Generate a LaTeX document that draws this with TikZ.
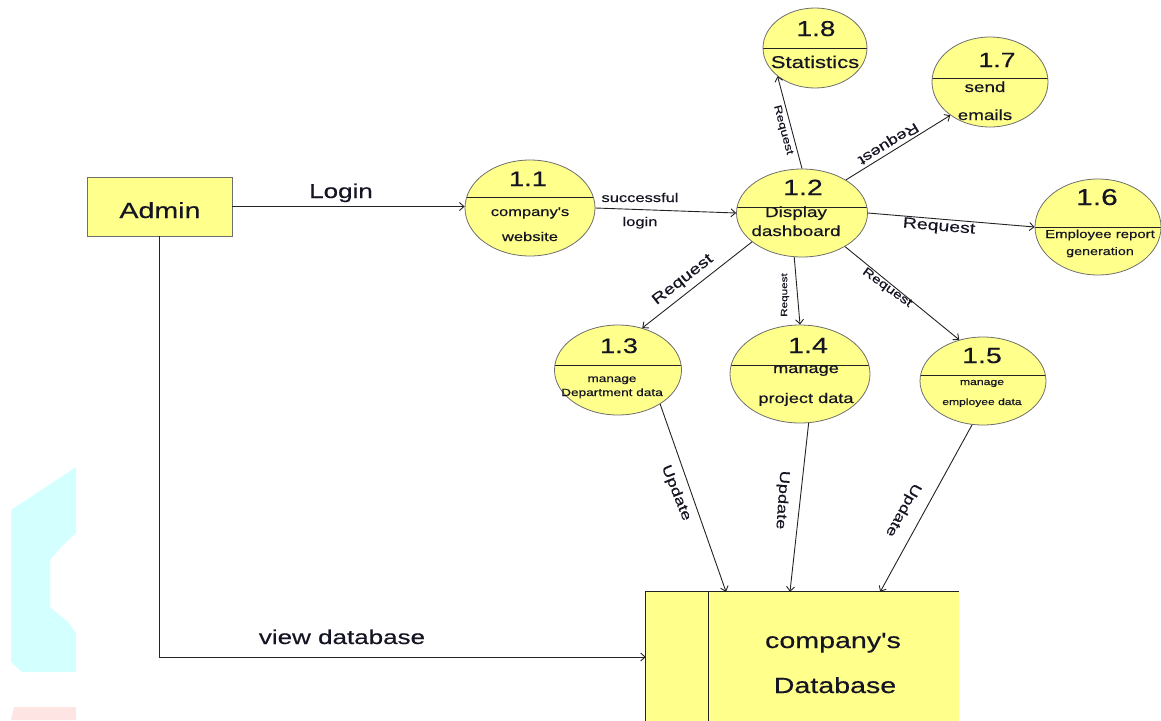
\documentclass[tikz,border=0pt]{standalone}
\usepackage{fontspec}
\setmainfont[FakeStretch=1.3, FakeBold=0.4, Ligatures=TeXOff]{Liberation Sans}
\usetikzlibrary{shapes.geometric,arrows.meta,calc}
\definecolor{procfill}{RGB}{255,255,140}
\definecolor{outl}{RGB}{110,110,110}
\definecolor{edgec}{RGB}{35,35,35}
\definecolor{txt}{RGB}{20,20,35}
\definecolor{wmcyan}{RGB}{212,255,255}
\definecolor{wmpink}{RGB}{255,228,228}
\newcommand\fsz[1]{\fontsize{#1}{#1}\selectfont}
\begin{document}
\begin{tikzpicture}[x=1pt,y=-1pt,
  proc/.style={ellipse, draw=outl, fill=procfill, inner sep=0pt, line width=0.8pt},
  div/.style={path picture={\draw[edgec, line width=1pt]
      ([yshift=#1]path picture bounding box.west) -- ([yshift=#1]path picture bounding box.east);}},
  box/.style={rectangle, draw=outl, fill=procfill, line width=0.9pt, inner sep=0pt},
  flow/.style={-{Straight Barb[length=4.5pt,width=8pt]}, draw=edgec, line width=0.9pt},
  t/.style={inner sep=0pt, anchor=base, text=txt},
  rl/.style={inner sep=0pt, anchor=center, text=txt},
]
\useasboundingbox (0,0) rectangle (1161,720);
% watermark remnants
\fill[wmcyan] (11,510)--(76,467)--(76,533)--(63,545)--(50,560)--(50,607)--(68,622)--(76,633)--(76,672)--(22,672)--(11,662)--cycle;
\fill[wmpink] (14,707)--(76,707)--(76,720)--(11,720)--cycle;

% external entity
\node[box, minimum width=145pt, minimum height=59pt] (admin) at (159.5,206.5) {};
\node[t, font=\fsz{22}] (admint) at (160,218) {Admin};

% data store
\node[rectangle, fill=procfill, draw=none, minimum width=313pt, minimum height=130pt, inner sep=0pt] (db) at (802.5,657) {};
\draw[edgec, line width=0.9pt] (db.south west) -- (db.north west) -- (db.north east);
\draw[edgec, line width=0.9pt] ($(db.north west)+(63,0)$) -- ($(db.south west)+(63,0)$);
\node[t, font=\fsz{22}] (dbt1) at (833,648) {company's};
\node[t, font=\fsz{22}] (dbt2) at (835,693) {Database};

% processes
\node[proc, minimum width=130pt, minimum height=96pt, div=11pt] (p11) at (530,208) {};
\node[proc, minimum width=131pt, minimum height=88pt, div=6pt] (p12) at (802,213) {};
\node[proc, minimum width=127pt, minimum height=90pt, div=5pt] (p13) at (618,370) {};
\node[proc, minimum width=140pt, minimum height=98pt, div=9pt] (p14) at (800,374) {};
\node[proc, minimum width=126pt, minimum height=88pt, div=6pt] (p15) at (983,381) {};
\node[proc, minimum width=126pt, minimum height=96pt, div=0pt] (p16) at (1098,227) {};
\node[proc, minimum width=116pt, minimum height=90pt, div=4pt] (p17) at (990,82) {};
\node[proc, minimum width=104pt, minimum height=80pt, div=0pt] (p18) at (815,48) {};

% process texts
\node[t, font=\fsz{21}] (n11) at (528,186) {1.1};
\node[t, font=\fsz{12.7}] (a11) at (530,216) {company's};
\node[t, font=\fsz{12.7}] (b11) at (530,241) {website};

\node[t, font=\fsz{22}] (n12) at (803,195) {1.2};
\node[t, font=\fsz{14.5}] (a12) at (796,217) {Display};
\node[t, font=\fsz{14.5}] (b12) at (796,236) {dashboard};

\node[t, font=\fsz{21.5}] (n18) at (816,36) {1.8};
\node[t, font=\fsz{17}] (a18) at (815,68) {Statistics};

\node[t, font=\fsz{20.5}] (n17) at (997,67) {1.7};
\node[t, font=\fsz{14.5}] (a17) at (985,92) {send};
\node[t, font=\fsz{14.5}] (b17) at (985,120) {emails};

\node[t, font=\fsz{23}] (n16) at (1097,205) {1.6};
\node[t, font=\fsz{11.5}] (a16) at (1100,238) {Employee report};
\node[t, font=\fsz{11}] (b16) at (1100,255) {generation};

\node[t, font=\fsz{21}] (n13) at (619,353) {1.3};
\node[t, font=\fsz{10.4}] (a13) at (612,382) {manage};
\node[t, font=\fsz{10.5}] (b13) at (612,396) {Department data};

\node[t, font=\fsz{22}] (n14) at (808,353) {1.4};
\node[t, font=\fsz{14}] (a14) at (806,373) {manage};
\node[t, font=\fsz{14}] (b14) at (806,403) {project data};

\node[t, font=\fsz{22}] (n15) at (982,363) {1.5};
\node[t, font=\fsz{9.4}] (a15) at (982,385) {manage};
\node[t, font=\fsz{9.3}] (b15) at (982,405) {employee data};

% flows
\draw[flow] (admin.east) -- (admin.east -| p11.west);
\draw[flow] (admin.south) |- (db.west);
\draw[flow] (p11.east) -- (p12.west);
\draw[flow] (p12.north) -- (p18.217);
\draw[flow] (p12.37) -- (p17.220);
\draw[flow] (p12.east) -- (p16.west);
\draw[flow] (p12.210) -- (p13.60);
\draw[flow] (p12.260) -- (p14.north);
\draw[flow] (p12.322) -- (p15.120);
\draw[flow] (p13.321) -- ($(db.north west)!0.256!(db.north east)$);
\draw[flow] (p14.280) -- ($(db.north west)!0.46!(db.north east)$);
\draw[flow] (p15.256) -- ($(db.north west)!0.748!(db.north east)$);

% flow labels
\node[t, font=\fsz{20}] (llogin) at (341,198) {Login};
\node[t, font=\fsz{20}] (lview) at (342,644) {view database};
\node[t, font=\fsz{12.7}] (lsucc) at (640,202) {successful};
\node[t, font=\fsz{12.7}] (llog2) at (640,226) {login};
\node[rl, font=\fsz{10.5}, rotate=-75] (r18) at (783,130) {Request};
\node[rl, font=\fsz{14}, rotate=211.5] (r17) at (888,143) {Request};
\node[rl, font=\fsz{15}, rotate=-5] (r16) at (939,227) {Request};
\node[rl, font=\fsz{15}, rotate=38] (r13) at (683,280) {Request};
\node[rl, font=\fsz{9}, rotate=90] (r14) at (785,295) {Request};
\node[rl, font=\fsz{12}, rotate=-36] (r15) at (887,288) {Request};
\node[rl, font=\fsz{14}, rotate=-68] (u13) at (676,493) {Update};
\node[rl, font=\fsz{14}, rotate=-94] (u14) at (782,500) {Update};
\node[rl, font=\fsz{14}, rotate=-119] (u15) at (903,510) {Update};
\end{tikzpicture}
\end{document}
